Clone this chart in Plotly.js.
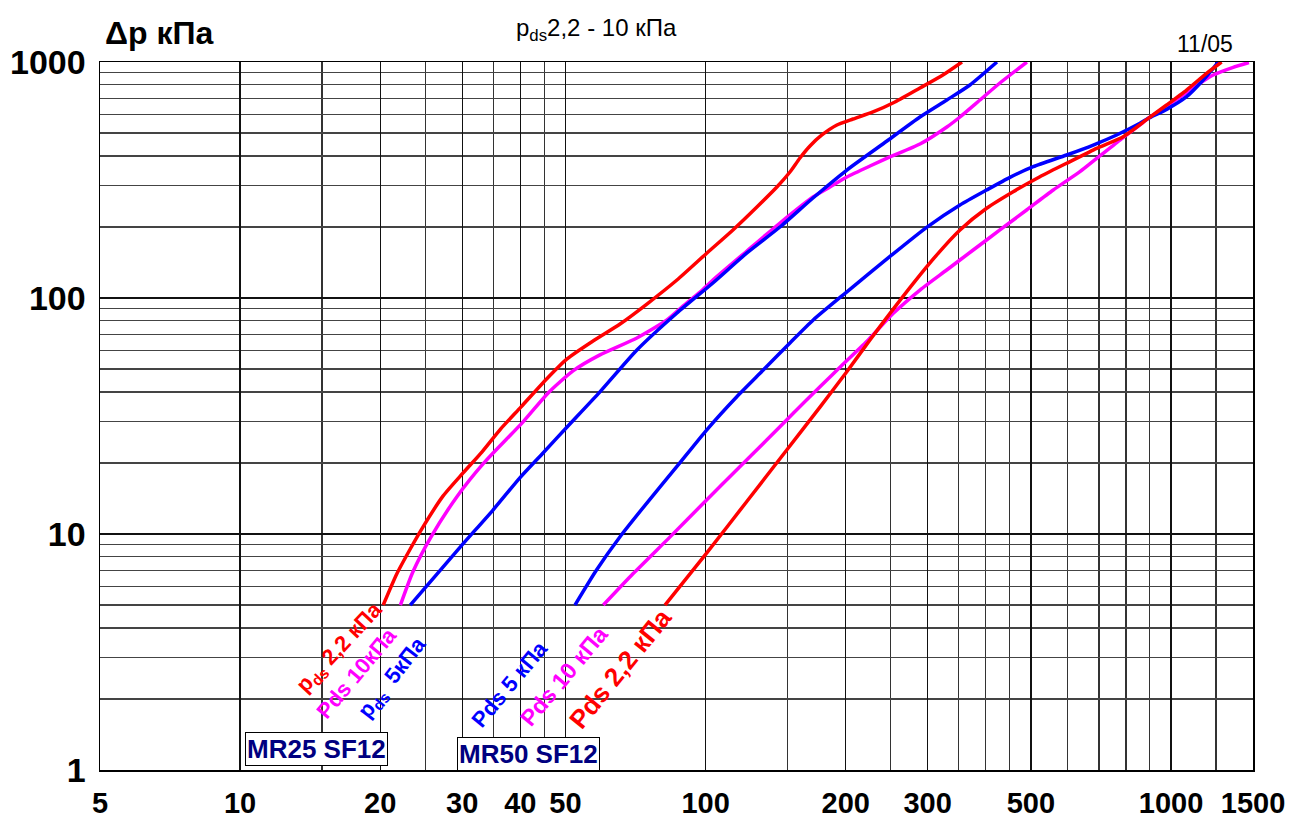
<!DOCTYPE html>
<html>
<head>
<meta charset="utf-8">
<script src="https://cdn.plot.ly/plotly-3.0.1.min.js"></script>
<style>html,body{margin:0;padding:0;background:#fff}#chart{width:1297px;height:822px}</style>
</head>
<body>
<div id="chart"></div>
<script>
// ---- Data (flow rate vs. pressure drop) ----
// MR25 SF12
const mr25RedX = [20.3, 21.7, 23.2, 24.7, 27.3, 30.1, 33.1, 36.3, 40.1, 45.6, 50.4, 57.3, 65.5, 74.8, 86.8, 100.7, 114.5, 128.9, 142.3, 151.8, 159.5, 167.6, 177.8, 191.5, 207.3, 228.9, 255.2, 288.8, 323.5, 355.5];
const mr25RedY = [5, 6.77, 8.64, 10.7, 14.5, 18.1, 22.3, 27.9, 34.5, 45.5, 55.2, 65.7, 77.6, 94.3, 119.2, 155.2, 194.2, 243, 295.3, 342, 392, 440.7, 490.6, 541, 573.4, 614, 676.9, 775.9, 881, 1000];

const mr25MagX = [22.1, 23.5, 25.7, 29.2, 33.4, 40.5, 45.9, 51.9, 59.3, 71.2, 82.6, 89.4, 97.3, 103.7, 122.7, 144.5, 170.1, 185.0, 201.2, 225.5, 248.9, 288.8, 329.9, 352.0, 388.6, 428.9, 490.2];
const mr25MagY = [5, 6.9, 9.7, 14.35, 20, 29.8, 39.6, 49.1, 57.4, 67.7, 80.7, 92.5, 106, 119.2, 158.2, 207.9, 267.9, 295.3, 325.6, 362.4, 395.9, 449.2, 530.4, 584.8, 690.2, 814.7, 1000];

const mr25BlueX = [23.2, 29.7, 34.9, 39.9, 44.7, 50.4, 59.3, 71.2, 86.8, 103.7, 122.7, 144.5, 170.1, 201.2, 245.3, 288.8, 329.9, 369.8, 422.7];
const mr25BlueY = [5, 8.8, 12.6, 17.3, 22.0, 28.4, 40.0, 60.2, 86.4, 115.8, 155.2, 199.9, 265.3, 348.6, 462.6, 584.8, 690.2, 799, 1000];

// MR50 SF12
const mr50BlueX = [52.4, 58.3, 65.5, 74.7, 86.7, 100.5, 116.7, 133, 151.8, 170.3, 200.9, 249, 298.5, 352, 401.6, 450.7, 505.8, 596.6, 680.6, 764, 857.5, 893.4, 978.4, 1080, 1172.6, 1232, 1263];
const mr50BlueY = [5, 7.04, 9.74, 13.49, 19.29, 27.58, 38.17, 49.5, 64.5, 80.7, 106, 150, 199.3, 247.8, 286.8, 324.6, 360, 403.6, 444.8, 490.6, 549.8, 577, 630, 712.8, 838.9, 940.4, 1000];

const mr50MagX = [60.3, 69.9, 83.8, 98.9, 116.7, 135.3, 154.3, 176.1, 197.6, 223.6, 253.1, 288.8, 329.6, 375.8, 428.9, 489.5, 558.4, 637.2, 680.6, 776.6, 857.5, 893.4, 962.1, 1062, 1153.5, 1232, 1360, 1470];
const mr50MagY = [5, 6.8, 9.7, 13.5, 18.7, 25.0, 32.5, 42.1, 52.5, 66.4, 86.1, 108.1, 131.4, 159.7, 194.2, 236, 286.8, 342.9, 380, 467.1, 541, 577, 636.6, 724.7, 812.3, 881, 949.5, 995];

const mr50RedX = [81.8, 100.5, 122.5, 149.4, 176.1, 200.9, 225.5, 249, 279.4, 313.6, 352, 401.6, 458, 522.7, 596.6, 692.1, 789.3, 893.4, 978.4, 1080, 1192.3, 1284];
const mr50RedY = [5, 8.3, 13.7, 22.7, 34.5, 48.6, 66.4, 86.1, 115.4, 152, 194.2, 240, 282.1, 326.6, 372.3, 430.8, 482.6, 577, 657.4, 760.8, 895.6, 1000];

// ---- Axis ticks / grid ----
const xTickVals = [5, 10, 20, 30, 40, 50, 100, 200, 300, 500, 1000, 1500];
const xTickText = ['5', '10', '20', '30', '40', '50', '100', '200', '300', '500', '1000', '1500'];
const xMinorGrid = [15, 25, 35, 45, 150, 250, 350, 400, 450, 600, 700, 800, 900, 1250];
const yTickVals = [1, 10, 100, 1000];
const yTickText = ['1', '10', '100', '1000'];
const yMinorGrid = [2, 3, 4, 5, 6, 7, 8, 9, 20, 30, 40, 50, 60, 70, 80, 90, 200, 300, 400, 500, 600, 700, 800, 900];

const RED = '#ff0000', MAG = '#ff00ff', BLUE = '#0000ff', NAVY = '#000080';
const FONT = 'Liberation Sans, Arial, sans-serif';

// layout geometry
const W = 1297, H = 822;
const M = {l: 100, r: 44, t: 62, b: 52};
const PW = W - M.l - M.r, PH = H - M.t - M.b;
const px = v => (v - M.l) / PW;          // pixel -> paper x
const py = v => (H - M.b - v) / PH;      // pixel -> paper y

function curve(x, y, color, name) {
  return {x, y, type: 'scatter', mode: 'lines', name,
    line: {color, width: 3.5, shape: 'spline', smoothing: 0.6},
    hoverinfo: 'skip', showlegend: false};
}

const traces = [
  curve(mr25MagX, mr25MagY, MAG, 'MR25 pds 10 кПа'),
  curve(mr25BlueX, mr25BlueY, BLUE, 'MR25 pds 5 кПа'),
  curve(mr25RedX, mr25RedY, RED, 'MR25 pds 2,2 кПа'),
  curve(mr50MagX, mr50MagY, MAG, 'MR50 pds 10 кПа'),
  curve(mr50BlueX, mr50BlueY, BLUE, 'MR50 pds 5 кПа'),
  curve(mr50RedX, mr50RedY, RED, 'MR50 pds 2,2 кПа')
];

function label(text, cx, cy, color, size, angle) {
  return {xref: 'paper', yref: 'paper', x: px(cx), y: py(cy), xanchor: 'center', yanchor: 'middle',
    text: text, showarrow: false, textangle: angle,
    font: {family: FONT, size: size, color: color}};
}

const annotations = [
  {xref: 'paper', yref: 'paper', x: px(159), y: py(33), xanchor: 'center', yanchor: 'middle',
   text: '<b>Δp кПа</b>', showarrow: false, font: {family: FONT, size: 32, color: '#000'}},
  {xref: 'paper', yref: 'paper', x: px(596), y: py(30), xanchor: 'center', yanchor: 'middle',
   text: 'p<sub>ds</sub>2,2 - 10 кПа', showarrow: false, font: {family: FONT, size: 24, color: '#000'}},
  {xref: 'paper', yref: 'paper', x: px(1205), y: py(44), xanchor: 'center', yanchor: 'middle',
   text: '11/05', showarrow: false, font: {family: FONT, size: 23, color: '#000'}},
  // curve labels MR25
  label('<b>p<sub>ds</sub> 2,2 кПа</b>', 340, 648, RED, 22, -47),
  label('<b>Pds 10кПа</b>', 356, 673, MAG, 22, -50),
  label('<b>p<sub>ds</sub>  5кПа</b>', 393, 678, BLUE, 22, -52),
  // curve labels MR50
  label('<b>Pds 5 кПа</b>', 509, 684, BLUE, 22, -50),
  label('<b>Pds 10 кПа</b>', 564, 676, MAG, 23, -50),
  label('<b>Pds 2,2 кПа</b>', 620, 669, RED, 26, -51),
  // boxes
  {xref: 'paper', yref: 'paper', x: px(316.5), y: py(749), xanchor: 'center', yanchor: 'middle',
   text: '<b>MR25 SF12</b>', showarrow: false, bgcolor: '#fff', bordercolor: '#000', borderwidth: 1, borderpad: 1,
   font: {family: FONT, size: 26, color: NAVY}},
  {xref: 'paper', yref: 'paper', x: px(528.3), y: py(754), xanchor: 'center', yanchor: 'middle',
   text: '<b>MR50 SF12</b>', showarrow: false, bgcolor: '#fff', bordercolor: '#000', borderwidth: 1, borderpad: 1,
   font: {family: FONT, size: 26, color: NAVY}}
];

const layout = {
  width: W, height: H,
  margin: M,
  paper_bgcolor: '#fff', plot_bgcolor: '#fff',
  showlegend: false,
  xaxis: {
    type: 'log', range: [Math.log10(5), Math.log10(1500)], autorange: false, fixedrange: true,
    tickmode: 'array', tickvals: xTickVals, ticktext: xTickText.map(t => '<b>' + t + '</b>'),
    tickangle: 0, ticks: '', ticklabelstandoff: 7,
    tickfont: {family: FONT, size: 29, color: '#000'},
    showgrid: true, gridcolor: '#111', gridwidth: 1.3,
    minor: {tickmode: 'array', tickvals: xMinorGrid, showgrid: true, gridcolor: '#333', gridwidth: 1.3, ticks: ''},
    showline: true, mirror: true, linecolor: '#000', linewidth: 1.5, zeroline: false, automargin: false
  },
  yaxis: {
    type: 'log', range: [0, 3], autorange: false, fixedrange: true,
    tickmode: 'array', tickvals: yTickVals, ticktext: yTickText.map(t => '<b>' + t + '</b>'),
    ticks: '', ticklabelstandoff: 6,
    tickfont: {family: FONT, size: 34, color: '#000'},
    showgrid: true, gridcolor: '#111', gridwidth: 1.3,
    minor: {tickmode: 'array', tickvals: yMinorGrid, showgrid: true, gridcolor: '#444', gridwidth: 1.2, ticks: ''},
    showline: true, mirror: true, linecolor: '#000', linewidth: 1.5, zeroline: false, automargin: false
  },
  annotations: annotations
};

Plotly.newPlot('chart', traces, layout, {staticPlot: true, displayModeBar: false});
</script>
</body>
</html>
